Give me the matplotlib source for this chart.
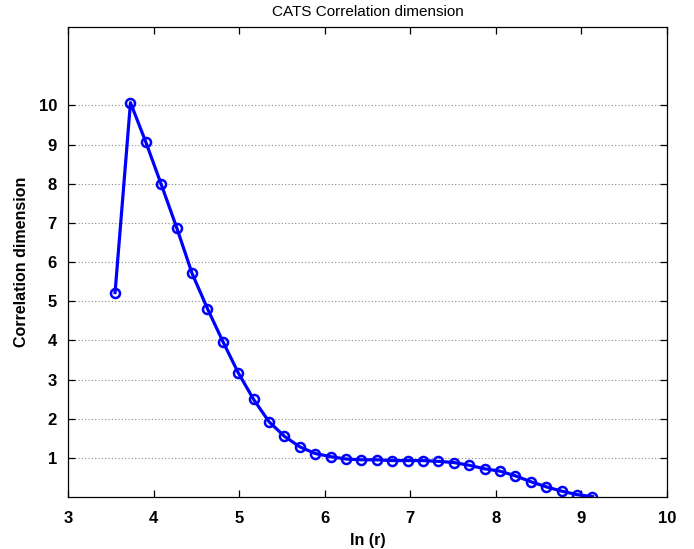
import matplotlib
matplotlib.use("Agg")
import matplotlib.pyplot as plt

# ln(r) values and the estimated correlation dimension at each
ln_r = [3.55, 3.73, 3.91, 4.09, 4.27, 4.45, 4.63, 4.81, 4.99, 5.17, 5.35,
        5.53, 5.71, 5.89, 6.07, 6.25, 6.43, 6.61, 6.79, 6.97, 7.15, 7.33,
        7.51, 7.69, 7.87, 8.05, 8.23, 8.41, 8.59, 8.77, 8.95, 9.13]
corr_dim = [5.22, 10.07, 9.06, 7.98, 6.88, 5.71, 4.81, 3.97, 3.17, 2.49, 1.92,
            1.55, 1.28, 1.11, 1.03, 0.97, 0.95, 0.95, 0.93, 0.93, 0.93, 0.91,
            0.88, 0.81, 0.72, 0.66, 0.54, 0.39, 0.26, 0.15, 0.06, 0.01]

x_ticks = [3, 4, 5, 6, 7, 8, 9, 10]
y_ticks = [1, 2, 3, 4, 5, 6, 7, 8, 9, 10]

plt.rcParams['font.family'] = ['Liberation Sans', 'DejaVu Sans']

fig = plt.figure(figsize=(6.94, 5.49), dpi=100)
ax = fig.add_axes([0.098, 0.0947, 0.863, 0.856])

ax.plot(ln_r, corr_dim, color='#0000ff', linewidth=2.3, marker='o',
        markersize=6.5, markerfacecolor='none', markeredgewidth=1.8)

ax.set_xlim(3, 10)
ax.set_ylim(0, 12)
ax.set_xticks(x_ticks)
ax.set_yticks(y_ticks)
ax.set_xticklabels([str(t) for t in x_ticks], fontweight='bold', fontsize=12)
ax.set_yticklabels([str(t) for t in y_ticks], fontweight='bold', fontsize=12)

ax.yaxis.grid(True, linestyle=(0, (1, 2)), color='#888888', linewidth=0.8)
ax.set_axisbelow(True)

ax.tick_params(direction='in', top=True, right=True, length=5, width=0.9,
               colors='black')
ax.tick_params(axis='x', pad=10)
ax.tick_params(axis='y', pad=8)
for s in ax.spines.values():
    s.set_linewidth(0.9)
    s.set_color('black')

ax.set_title('CATS Correlation dimension', fontsize=11, pad=8)
ax.set_xlabel('ln (r)', fontweight='bold', fontsize=11.5, labelpad=5)
ax.set_ylabel('Correlation dimension', fontweight='bold', fontsize=11.5,
              labelpad=7)

fig.savefig('out.png', dpi=100)
